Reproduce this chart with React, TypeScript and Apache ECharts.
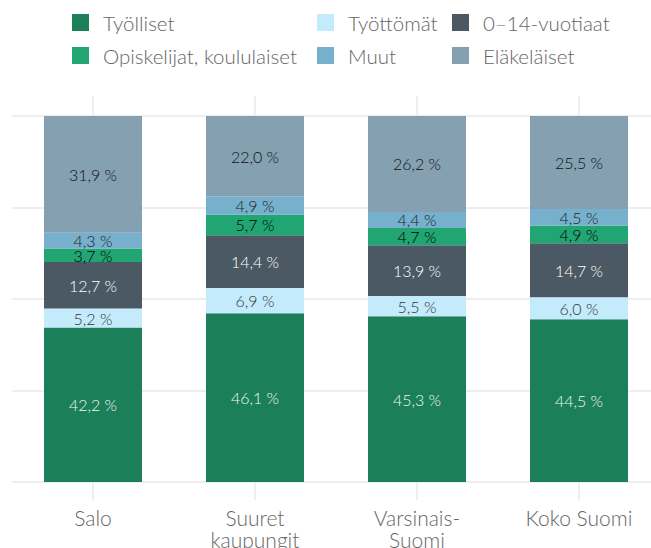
import React, { useEffect, useRef } from "react";
import * as echarts from "echarts";

const categories = ["Salo", "Suuret\nkaupungit", "Varsinais-\nSuomi", "Koko Suomi"];
const tyolliset = [42.2, 46.1, 45.3, 44.5];
const tyottomat = [5.2, 6.9, 5.5, 6.0];
const lapset = [12.7, 14.4, 13.9, 14.7];
const opiskelijat = [3.7, 5.7, 4.7, 4.9];
const muut = [4.3, 4.9, 4.4, 4.5];
const elakelaiset = [31.9, 22.0, 26.2, 25.5];

const FONT = "Lato, 'Open Sans', sans-serif";

export default function App() {
  const ref = useRef<HTMLDivElement>(null);
  useEffect(() => {
    const chart = echarts.init(ref.current!, null, { renderer: "svg" });
    const fmt = (p: any) => p.value.toFixed(1).replace(".", ",") + " %";
    const mk = (name: string, data: number[], color: string, labelColor: string) => ({
      name,
      type: "bar",
      stack: "s",
      data,
      barWidth: 98,
      itemStyle: { color },
      label: {
        show: true,
        position: "inside",
        formatter: fmt,
        color: labelColor,
        fontSize: 16,
        fontWeight: 300,
        fontFamily: FONT,
      },
    });
    const legendBase = {
      orient: "vertical",
      top: 12,
      padding: 0,
      itemWidth: 17,
      itemHeight: 17,
      itemGap: 12,
      icon: "rect",
      selectedMode: false,
      textStyle: {
        fontSize: 20.5,
        fontWeight: 300,
        color: "#666",
        fontFamily: FONT,
        lineHeight: 20,
        padding: [0, 0, 0, 9],
      },
    };
    chart.setOption({
      animation: false,
      legend: [
        { ...legendBase, left: 72, data: ["Työlliset", "Opiskelijat, koululaiset"] },
        { ...legendBase, left: 317, data: ["Työttömät", "Muut"] },
        { ...legendBase, left: 452, data: ["0–14-vuotiaat", "Eläkeläiset"] },
      ],
      grid: { left: 12, right: -9, top: 116, bottom: 66, containLabel: false, outerBoundsMode: "none" },
      xAxis: [
        {
          type: "category",
          data: categories,
          axisLine: { show: false },
          axisTick: { show: true, alignWithLabel: true, length: 18, lineStyle: { color: "#eeeeee", width: 2 } },
          axisLabel: { fontSize: 21, fontWeight: 300, color: "#666", fontFamily: FONT, margin: 24, lineHeight: 22 },
        },
        {
          type: "category",
          position: "top",
          data: categories,
          axisLine: { show: false },
          axisTick: { show: true, alignWithLabel: true, length: 20, lineStyle: { color: "#eeeeee", width: 2 } },
          axisLabel: { show: false },
        },
      ],
      yAxis: {
        type: "value",
        min: 0,
        max: 100,
        interval: 25,
        axisLabel: { show: false },
        axisLine: { show: false },
        axisTick: { show: false },
        splitLine: { lineStyle: { color: "#eeeeee", width: 2 } },
      },
      series: [
        mk("Työlliset", tyolliset, "#1b7f5a", "#eef6f2"),
        mk("Työttömät", tyottomat, "#c4ebfb", "#333"),
        mk("0–14-vuotiaat", lapset, "#4a5963", "#ffffff"),
        mk("Opiskelijat, koululaiset", opiskelijat, "#21a673", "#000"),
        mk("Muut", muut, "#76b0cc", "#222"),
        mk("Eläkeläiset", elakelaiset, "#84a0b1", "#111"),
      ],
    });
    return () => chart.dispose();
  }, []);
  return <div ref={ref} style={{ width: 651, height: 548, position: "absolute", left: 0, top: 0 }} />;
}
